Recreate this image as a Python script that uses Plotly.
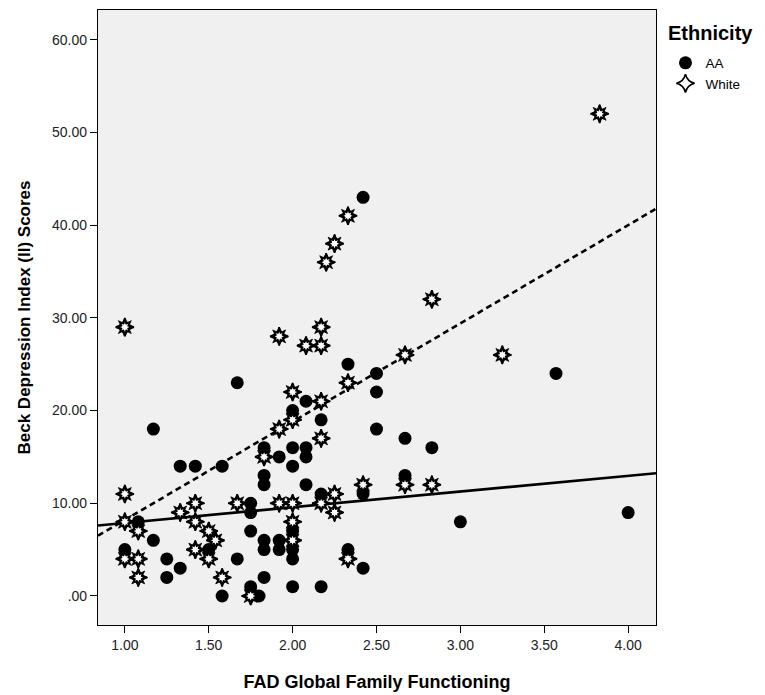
import plotly.graph_objects as go

# ---- data ----
aa_fad = [1.00, 1.08, 1.17, 1.17, 1.25, 1.25, 1.33, 1.33, 1.42, 1.50,
          1.58, 1.58, 1.67, 1.67, 1.75, 1.75, 1.75, 1.75, 1.80, 1.83,
          1.83, 1.83, 1.83, 1.83, 1.83, 1.92, 1.92, 1.92, 2.00, 2.00,
          2.00, 2.00, 2.00, 2.00, 2.00, 2.08, 2.08, 2.08, 2.08, 2.17,
          2.17, 2.17, 2.33, 2.33, 2.42, 2.42, 2.42, 2.50, 2.50, 2.50,
          2.67, 2.67, 2.83, 3.00, 3.57, 4.00]
aa_bdi = [5, 8, 18, 6, 4, 2, 14, 3, 14, 5,
          14, 0, 23, 4, 10, 9, 7, 1, 0, 16,
          13, 12, 6, 5, 2, 15, 6, 5, 20, 16,
          14, 7, 5, 4, 1, 21, 16, 15, 12, 19,
          11, 1, 25, 5, 43, 11, 3, 24, 22, 18,
          17, 13, 16, 8, 24, 9]

white_fad = [1.00, 1.00, 1.00, 1.00, 1.08, 1.08, 1.08, 1.33, 1.42, 1.42,
             1.42, 1.50, 1.50, 1.54, 1.58, 1.67, 1.75, 1.83, 1.92, 1.92,
             1.92, 2.00, 2.00, 2.00, 2.00, 2.00, 2.08, 2.17, 2.17, 2.17,
             2.17, 2.17, 2.20, 2.25, 2.25, 2.25, 2.33, 2.33, 2.33, 2.42,
             2.67, 2.67, 2.83, 2.83, 3.25, 3.83]
white_bdi = [29, 11, 8, 4, 7, 4, 2, 9, 10, 8,
             5, 7, 4, 6, 2, 10, 0, 15, 28, 18,
             10, 22, 19, 10, 8, 6, 27, 29, 27, 21,
             17, 10, 36, 38, 11, 9, 41, 23, 4, 12,
             26, 12, 32, 12, 26, 52]

# fit lines: (intercept, slope)
aa_fit = (6.18, 1.695)
white_fit = (-2.40, 10.60)

x_tick_vals = [1.0, 1.5, 2.0, 2.5, 3.0, 3.5, 4.0]
x_tick_text = ["1.00", "1.50", "2.00", "2.50", "3.00", "3.50", "4.00"]
y_tick_vals = [0, 10, 20, 30, 40, 50, 60]
y_tick_text = [".00", "10.00", "20.00", "30.00", "40.00", "50.00", "60.00"]

x_title = "FAD Global Family Functioning"
y_title = "Beck Depression Index (II) Scores"
legend_title = "Ethnicity"
group_names = ["AA", "White"]

X_RANGE = [0.84, 4.166]
Y_RANGE = [-3.13, 63.2]

FONT = "Liberation Sans, Arial, sans-serif"

fig = go.Figure()

# ---- fit lines drawn across the whole x axis ----
def fit_line(coef):
    b0, b1 = coef
    return [b0 + b1 * v for v in X_RANGE]

fig.add_trace(go.Scatter(x=X_RANGE, y=fit_line(aa_fit), mode="lines",
                         line=dict(color="black", width=2.6),
                         showlegend=False, hoverinfo="skip"))
fig.add_trace(go.Scatter(x=X_RANGE, y=fit_line(white_fit), mode="lines",
                         line=dict(color="black", width=2.6, dash="6px,4px"),
                         showlegend=False, hoverinfo="skip"))

# ---- AA: filled circles ----
fig.add_trace(go.Scatter(x=aa_fad, y=aa_bdi, mode="markers", name=group_names[0],
                         marker=dict(symbol="circle", size=13, color="black",
                                     line=dict(width=0))))

# ---- White: eight-pointed outlined star (black 8-point star with white core) ----
SD, SS = 13.0, 11.7       # outer black star (diamond + square parts)
ID, IS = 6.6, 6.0         # inner white star
# legend carrier (outlined star, hidden under the layers below in the plot)
fig.add_trace(go.Scatter(x=white_fad, y=white_bdi, mode="markers", name=group_names[1],
                         marker=dict(symbol="star-diamond", size=SD, color="white",
                                     line=dict(color="black", width=1.6))))
fig.add_trace(go.Scatter(x=white_fad, y=white_bdi, mode="markers", showlegend=False,
                         hoverinfo="skip",
                         marker=dict(symbol="star-diamond", size=SD, color="black",
                                     line=dict(color="black", width=0.8))))
fig.add_trace(go.Scatter(x=white_fad, y=white_bdi, mode="markers", showlegend=False,
                         hoverinfo="skip",
                         marker=dict(symbol="star-square", size=SS, color="black",
                                     line=dict(color="black", width=0.8))))
fig.add_trace(go.Scatter(x=white_fad, y=white_bdi, mode="markers", showlegend=False,
                         hoverinfo="skip",
                         marker=dict(symbol="star-diamond", size=ID, color="white",
                                     line=dict(width=0))))
fig.add_trace(go.Scatter(x=white_fad, y=white_bdi, mode="markers", showlegend=False,
                         hoverinfo="skip",
                         marker=dict(symbol="star-square", size=IS, color="white",
                                     line=dict(width=0))))

# page body has an 8px margin, so the figure is sized/margined to compensate
fig.update_layout(
    width=757, height=687,
    margin=dict(l=90, r=109, t=2, b=70),
    paper_bgcolor="white",
    plot_bgcolor="#F0F0F0",
    font=dict(family=FONT, color="black", size=13),
    legend=dict(
        x=1.017, xanchor="left", y=0.939, yanchor="top",
        bgcolor="rgba(0,0,0,0)", font=dict(size=13.5, family=FONT),
        tracegroupgap=0, itemwidth=30,
    ),
    annotations=[dict(
        text="<b>%s</b>" % legend_title, xref="paper", yref="paper",
        x=1.018, xanchor="left", y=0.963, yanchor="middle", showarrow=False,
        font=dict(size=20, family=FONT, color="black"),
    )],
    xaxis=dict(
        range=X_RANGE, tickmode="array", tickvals=x_tick_vals, ticktext=x_tick_text,
        showgrid=False, zeroline=False, showline=True, mirror=True, automargin=False,
        linecolor="black", linewidth=1.2, ticks="outside", ticklen=7, tickcolor="black",
        tickfont=dict(size=14, family=FONT, color="#222"),
        title=dict(text="<b>%s</b>" % x_title, font=dict(size=18, family=FONT), standoff=23),
    ),
    yaxis=dict(
        range=Y_RANGE, tickmode="array", tickvals=y_tick_vals, ticktext=y_tick_text,
        showgrid=False, zeroline=False, showline=True, mirror=True, automargin=False,
        linecolor="black", linewidth=1.2, ticks="outside", ticklen=7, tickcolor="black",
        tickfont=dict(size=14, family=FONT, color="#222"),
        title=dict(text="<b>%s</b>" % y_title, font=dict(size=17, family=FONT), standoff=17),
    ),
)

fig.write_html("out.html")
